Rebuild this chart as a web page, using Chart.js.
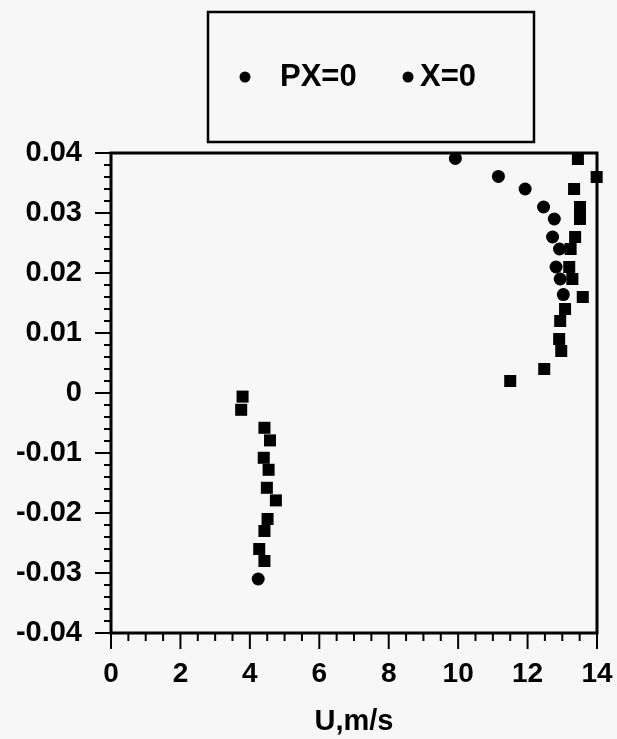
<!DOCTYPE html>
<html>
<head>
<meta charset="utf-8">
<script src="https://cdn.jsdelivr.net/npm/chart.js@4.4.0/dist/chart.umd.min.js"></script>
<style>
  html, body { margin: 0; padding: 0; background: #f7f7f7; }
  #wrap { width: 617px; height: 739px; position: relative; }
</style>
</head>
<body>
<div id="wrap"><canvas id="profileChart"></canvas></div>
<script>
/* Perfil de velocidade U vs posicao - scatter com dois conjuntos */

// PX=0 (quadrados)
const pxU = [13.45, 13.99, 13.34, 13.51, 13.51, 13.37, 13.24, 13.20, 13.29, 13.59, 13.08, 12.94, 12.91, 12.97, 12.48, 11.50,
  3.79, 3.75, 4.42, 4.58, 4.40, 4.54, 4.49, 4.75, 4.51, 4.42, 4.27, 4.42];
const pxY = [0.039, 0.036, 0.034, 0.031, 0.029, 0.026, 0.024, 0.021, 0.019, 0.016, 0.014, 0.012, 0.009, 0.007, 0.004, 0.002,
  -0.0006, -0.0028, -0.0058, -0.0079, -0.0108, -0.0128, -0.0158, -0.0179, -0.021, -0.023, -0.026, -0.028];

// X=0 (circulos)
const xU = [9.92, 11.16, 11.93, 12.46, 12.77, 12.72, 12.92, 12.82, 12.94, 13.03, 4.24];
const xY = [0.0391, 0.0361, 0.034, 0.031, 0.029, 0.026, 0.024, 0.021, 0.019, 0.0164, -0.031];

const X_TICKS = [0, 2, 4, 6, 8, 10, 12, 14];
const Y_TICKS = [-0.04, -0.03, -0.02, -0.01, 0, 0.01, 0.02, 0.03, 0.04];

const FONT = '"Liberation Sans", Arial, sans-serif';
const INK = '#000';

function toPoints(xs, ys) {
  return xs.map((u, i) => ({ x: u, y: ys[i] }));
}

// ticks menores + moldura + legenda em caixa
const frameAndMinor = {
  id: 'frameAndMinor',
  afterDraw(chart) {
    const { ctx, chartArea } = chart;
    const xs = chart.scales.x;
    const ys = chart.scales.y;
    ctx.save();
    ctx.strokeStyle = INK;
    ctx.lineWidth = 2;

    // ticks menores do eixo x (0.5)
    for (let v = 0; v <= 14.001; v += 0.5) {
      const px = xs.getPixelForValue(v);
      const major = Math.abs(v / 2 - Math.round(v / 2)) < 1e-6;
      ctx.beginPath();
      ctx.moveTo(px, chartArea.bottom);
      ctx.lineTo(px, chartArea.bottom + (major ? 16 : 8));
      ctx.stroke();
    }
    // ticks menores do eixo y (0.002)
    for (let k = -20; k <= 20; k += 1) {
      const py = ys.getPixelForValue(k * 0.002);
      const major = k % 5 === 0;
      ctx.beginPath();
      ctx.moveTo(chartArea.left, py);
      ctx.lineTo(chartArea.left - (major ? 16 : 7), py);
      ctx.stroke();
    }

    // moldura
    ctx.lineWidth = 3;
    ctx.strokeRect(chartArea.left, chartArea.top, chartArea.right - chartArea.left, chartArea.bottom - chartArea.top);

    // caixa da legenda
    ctx.lineWidth = 2.5;
    ctx.strokeRect(208, 12, 326, 130);

    ctx.font = `bold 31px ${FONT}`;
    ctx.fillStyle = INK;
    ctx.textBaseline = 'middle';
    ctx.textAlign = 'left';
    const items = [
      { dot: 245, text: 280 },
      { dot: 408, text: 420 },
    ];
    items.forEach((it, i) => {
      ctx.beginPath();
      ctx.arc(it.dot, 77, 5.5, 0, Math.PI * 2);
      ctx.fill();
      ctx.fillText(chart.data.datasets[i].label, it.text, 77);
    });
    ctx.restore();
  },
};

new Chart(document.getElementById('profileChart').getContext('2d'), {
  type: 'scatter',
  data: {
    datasets: [
      {
        label: 'PX=0',
        data: toPoints(pxU, pxY),
        pointStyle: 'rect',
        pointRadius: 8.5,
        backgroundColor: INK,
        borderColor: INK,
        borderWidth: 0,
      },
      {
        label: 'X=0',
        data: toPoints(xU, xY),
        pointStyle: 'circle',
        pointRadius: 6.5,
        backgroundColor: INK,
        borderColor: INK,
        borderWidth: 0,
      },
    ],
  },
  options: {
    responsive: true,
    maintainAspectRatio: false,
    animation: false,
    layout: { padding: { top: 153, right: 20, left: 0, bottom: 0 } },
    plugins: {
      legend: { display: false },
      tooltip: { enabled: false },
    },
    clip: false,
    scales: {
      x: {
        type: 'linear',
        min: 0,
        max: 14,
        afterBuildTicks(scale) { scale.ticks = X_TICKS.map((v) => ({ value: v })); },
        afterFit(scale) { scale.height = 106; scale.paddingLeft = 0; scale.paddingRight = 0; },
        grid: { display: false, drawTicks: false },
        border: { display: false },
        ticks: {
          color: INK,
          font: { family: FONT, size: 28, weight: 'bold' },
          padding: 24,
          maxRotation: 0,
          callback: (v) => String(v),
        },
        title: {
          display: true,
          text: 'U,m/s',
          color: INK,
          font: { family: FONT, size: 29, weight: 'bold' },
          padding: { top: 4, bottom: 0 },
        },
      },
      y: {
        type: 'linear',
        min: -0.04,
        max: 0.04,
        afterBuildTicks(scale) { scale.ticks = Y_TICKS.map((v) => ({ value: v })); },
        afterFit(scale) { scale.width = 111; scale.paddingTop = 0; scale.paddingBottom = 0; },
        grid: { display: false, drawTicks: false },
        border: { display: false },
        ticks: {
          color: INK,
          font: { family: FONT, size: 29, weight: 'bold' },
          padding: 29,
          callback: (v) => String(Number(Number(v).toFixed(2))),
        },
      },
    },
  },
  plugins: [frameAndMinor],
});
</script>
</body>
</html>
